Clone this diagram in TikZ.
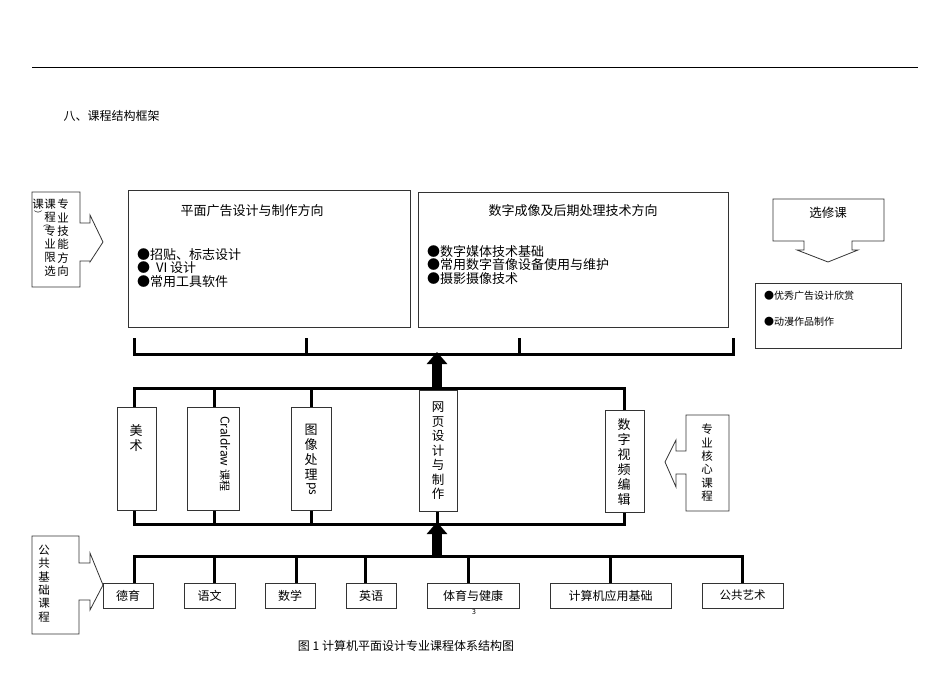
\documentclass[tikz,border=0pt]{standalone}
\usepackage{fontspec}
\setmainfont{Noto Sans CJK SC}
\usetikzlibrary{positioning,arrows.meta}
\begin{document}
\begin{tikzpicture}[x=1pt,y=-1pt,
  box/.style={draw=black!80,line width=0.8pt},
  bar/.style={line width=3pt},
  cb/.style={draw=black!80,line width=0.8pt,minimum height=25pt,font=\fontsize{12}{12}\selectfont,inner sep=0pt},
  vt/.style={align=center,font=\fontsize{13}{15}\selectfont,inner sep=0pt},
  vs/.style={align=center,font=\fontsize{11.5}{13.3}\selectfont,inner sep=0pt},
  big/.style={line width=10pt,-{Triangle[width=20pt,length=12pt]}}]
\useasboundingbox (0,0) rectangle (950,672);
\draw[line width=0.6pt] (32,67) -- (918,67);
\node[anchor=west,font=\fontsize{12}{12}\selectfont] (head) at (60,116) {八、课程结构框架};
% top boxes
\draw[box] (128,190) rectangle (410,327);
\node[font=\fontsize{13}{13}\selectfont] (ta) at (252,211) {平面广告设计与制作方向};
\node[anchor=north west,align=left,font=\fontsize{13}{13.5}\selectfont,inner sep=0pt] (la) at (137,248) {●招贴、标志设计\\● \ VI 设计\\●常用工具软件};
\draw[box] (418,192) rectangle (728,327);
\node[font=\fontsize{13}{13}\selectfont] (tb) at (573,211) {数字成像及后期处理技术方向};
\node[anchor=north west,align=left,font=\fontsize{13}{13.5}\selectfont,inner sep=0pt] (lb) at (427,245) {●数字媒体技术基础\\●常用数字音像设备使用与维护\\●摄影摄像技术};
% elective
\draw[box] (773,199) -- (884,199) -- (884,241) -- (852,241) -- (852,250) -- (858,250) -- (828,262) -- (797,250) -- (804,250) -- (804,241) -- (773,241) -- cycle;
\node[font=\fontsize{12.5}{13}\selectfont] (xx) at (828,213) {选修课};
\draw[box] (755,283) rectangle (901,348);
\node[anchor=west,font=\fontsize{10}{10}\selectfont,inner sep=0pt] (c1) at (764,296) {●优秀广告设计欣赏};
\node[anchor=west,font=\fontsize{10}{10}\selectfont,inner sep=0pt] (c2) at (764,322) {●动漫作品制作};
% left callout 1
\draw[box] (32,192) -- (80,192) -- (80,223) -- (90,223) -- (90,215) -- (103,242) -- (90,262) -- (90,261) -- (80,261) -- (80,287) -- (32,287) -- cycle;
\node[vs,anchor=north] (s1) at (63,199) {专\\业\\技\\能\\方\\向};
\node[vs,anchor=north] (s2) at (50,199) {课\\程\\专\\业\\限\\选};
\node[vs,font=\fontsize{8}{8}\selectfont] (s2p) at (47,226) {︵};
\node[vs,anchor=north] (s3) at (38,199) {课};
\node[vs,font=\fontsize{8}{8}\selectfont] (s3p) at (38,214) {︶};
% top bracket
\draw[bar] (134,338) -- (134,354) -- (733,354) -- (733,338);
\draw[bar] (306,338) -- (306,354);
\draw[bar] (519,338) -- (519,354);
\draw[big] (437,389) -- (437,352);
% middle bar
\draw[bar] (134,407) -- (134,388) -- (624,388) -- (624,410);
\draw[bar] (214,388) -- (214,407);
\draw[bar] (311,388) -- (311,407);
\draw[bar] (134,510) -- (134,524) -- (624,524) -- (624,512);
\draw[bar] (214,510) -- (214,524);
\draw[bar] (311,510) -- (311,524);
\draw[bar] (437,511) -- (437,524);
\draw[big] (437,557) -- (437,522);
% middle boxes
\draw[box,fill=white] (117,407) rectangle (156,510);
\node[vt,anchor=north] (m1) at (136,424) {美\\术};
\draw[box,fill=white] (187,407) rectangle (239,510);
\node[rotate=-90,anchor=west,font=\fontsize{12}{12}\selectfont,inner sep=0pt] (m2) at (225,416) {Craldraw {\fontsize{11}{11}\selectfont 课程}};
\draw[box,fill=white] (291,407) rectangle (331,510);
\node[vt,anchor=north] (m3) at (311,424) {图\\像\\处\\理};
\node[rotate=-90,font=\fontsize{12}{12}\selectfont,inner sep=0pt] (m3b) at (311,489) {ps};
\draw[box,fill=white] (419,390) rectangle (457,511);
\node[vt,anchor=north,font=\fontsize{12.5}{14.5}\selectfont] (m4) at (438,402) {网\\页\\设\\计\\与\\制\\作};
\draw[box,fill=white] (605,410) rectangle (644,512);
\node[vt,anchor=north] (m5) at (624,418) {数\\字\\视\\频\\编\\辑};
% core callout
\draw[box] (729,415) -- (686,415) -- (686,451) -- (676,451) -- (676,440) -- (665,462) -- (676,487) -- (676,474) -- (686,474) -- (686,511) -- (729,511) -- cycle;
\node[vs,anchor=north] (k1) at (707,424) {专\\业\\核\\心\\课\\程};
% bottom bar
\draw[bar] (134,583) -- (134,556) -- (742,556) -- (742,583);
\foreach \x in {214,296,365,468,610} \draw[bar] (\x,556) -- (\x,583);
\node[cb,minimum width=50pt,fill=white] (b1) at (128,595.5) {德育};
\node[cb,minimum width=51pt,fill=white] (b2) at (209.5,595.5) {语文};
\node[cb,minimum width=50pt,fill=white] (b3) at (290,595.5) {数学};
\node[cb,minimum width=50pt,fill=white] (b4) at (371,595.5) {英语};
\node[cb,minimum width=92pt,fill=white] (b5) at (473,595.5) {体育与健康};
\node[cb,minimum width=121pt,fill=white] (b6) at (610.5,595.5) {计算机应用基础};
\node[cb,minimum width=81pt,fill=white,font=\fontsize{11.5}{12}\selectfont] (b7) at (742.5,595.5) {公共艺术};
% public callout
\draw[box] (32,536) -- (79,536) -- (79,563) -- (90,563) -- (90,553) -- (103,585) -- (90,610) -- (90,600) -- (79,600) -- (79,634) -- (32,634) -- cycle;
\node[vs,anchor=north] (p1) at (44,545) {公\\共\\基\\础\\课\\程};
\node[font=\fontsize{7}{7}\selectfont] (pg) at (474,612) {3};
\node[font=\fontsize{12}{12}\selectfont] (cap) at (406,646) {图 1 计算机平面设计专业课程体系结构图};
\end{tikzpicture}
\end{document}
